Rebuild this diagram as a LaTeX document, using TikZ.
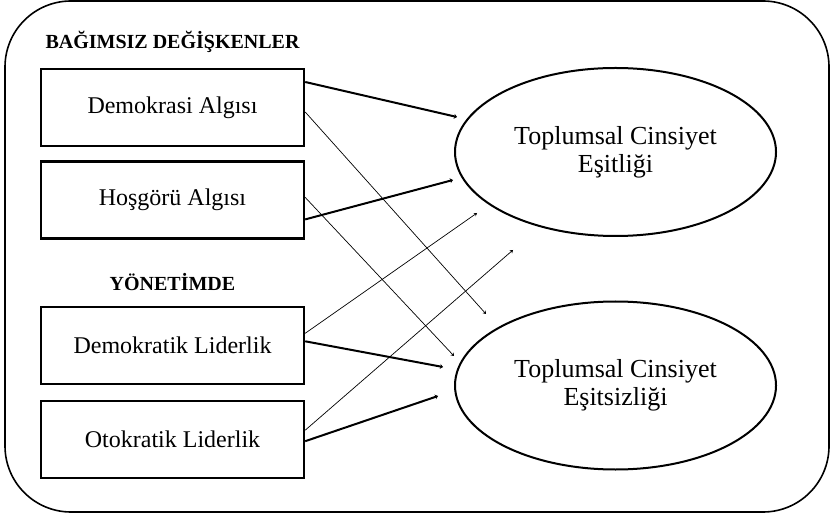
\documentclass[tikz,border=0pt]{standalone}
\usepackage{fontspec}
\setmainfont{Liberation Serif}[BoldFont={Liberation Serif Bold}]
\usepackage{tikz}
\usetikzlibrary{positioning,shapes.geometric,arrows.meta}
\tikzset{
    box/.style={
        rectangle,
        draw=black,
        line width=1.2pt,
        minimum width=131.5pt,
        minimum height=38.5pt,
        text centered,
        font=\fontsize{12}{14}\selectfont
    },
    outcome/.style={
        ellipse,
        draw=black,
        line width=1pt,
        minimum width=160.5pt,
        minimum height=84pt,
        align=center,
        font=\fontsize{13}{14}\selectfont
    },
    heading/.style={
        font=\fontsize{10}{12}\selectfont\bfseries
    },
    arrowthick/.style={
        -{Stealth[length=1.5pt,width=2.5pt]},
        line width=1pt
    },
    arrowthin/.style={
        -{Stealth[length=1.5pt,width=2pt]},
        line width=0.35pt
    }
}

\begin{document}
\begin{tikzpicture}[x=0.5pt,y=-0.5pt]
          \useasboundingbox (0,0) rectangle (833,517);
          \draw [line width=0.8pt, rounded corners=33pt] (5,1) rectangle (829,512);
          % independent variables
          \node (demokrasi) [box] at (172.5,107.5) {Demokrasi Algısı};
          \node (hosgoru) [box, below=6.5pt of demokrasi] {Hoşgörü Algısı};
          \node (demlider) [box, below=33pt of hosgoru] {Demokratik Liderlik};
          \node (otolider) [box, below=7.5pt of demlider] {Otokratik Liderlik};
          \node (bagimsiz) [heading, above=4pt of demokrasi] {BAĞIMSIZ DEĞİŞKENLER};
          \node (yonetim) [heading, above=4pt of demlider] {YÖNETİMDE};
          % outcomes
          \node (esitlik) [outcome] at (615.5,152) {Toplumsal Cinsiyet\\Eşitliği};
          \node (esitsizlik) [outcome] at (615.5,385.5) {Toplumsal Cinsiyet\\Eşitsizliği};
          % free arrow ends
          \coordinate (u1) at (457,117);
          \coordinate (u2) at (486,314);
          \coordinate (u3) at (453,180);
          \coordinate (u4) at (454,356);
          \coordinate (u5) at (477,213);
          \coordinate (u6) at (443,367);
          \coordinate (u7) at (513,250);
          \coordinate (u8) at (438,396);
          \draw [arrowthick] ([yshift=12.75pt]demokrasi.east) -- (u1);
          \draw [arrowthin] ([yshift=-2.25pt]demokrasi.east) -- (u2);
          \draw [arrowthick] ([yshift=-9.75pt]hosgoru.east) -- (u3);
          \draw [arrowthin] ([yshift=1.25pt]hosgoru.east) -- (u4);
          \draw [arrowthin] ([yshift=6pt]demlider.east) -- (u5);
          \draw [arrowthick] ([yshift=2pt]demlider.east) -- (u6);
          \draw [arrowthin] ([yshift=4.75pt]otolider.east) -- (u7);
          \draw [arrowthick] ([yshift=-0.75pt]otolider.east) -- (u8);
        \end{tikzpicture}
\end{document}
